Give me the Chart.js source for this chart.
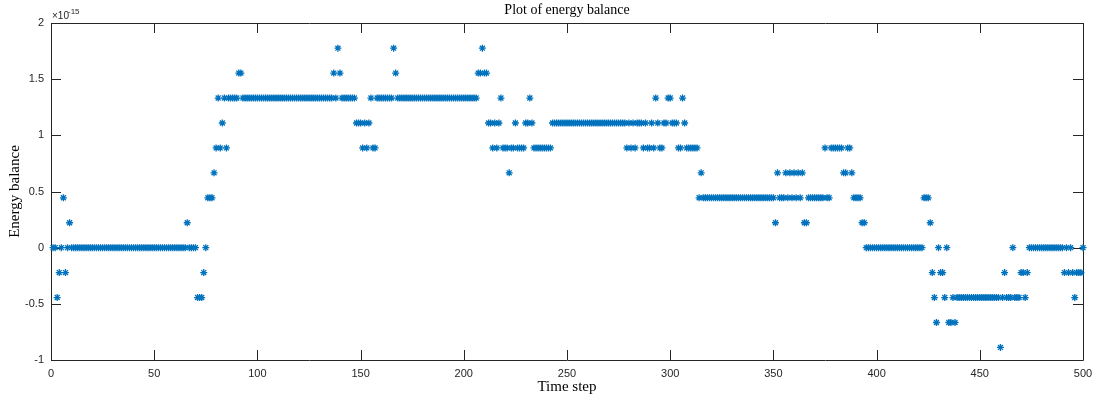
<!DOCTYPE html>
<html>
<head>
<meta charset="utf-8">
<title>Plot of energy balance</title>
<script src="https://cdn.jsdelivr.net/npm/chart.js@4/dist/chart.umd.min.js"></script>
<style>
  html, body { margin: 0; padding: 0; background: #fff; }
  canvas { display: block; }
</style>
</head>
<body>
<canvas id="chartEnergy" width="1101" height="399"></canvas>
<script>
const titleText = 'Plot of energy balance'
const xLabel = 'Time step'
const yLabel = 'Energy balance'
const yExponent = '-15'

// energy balance for time steps 1..500, in units of 1e-15
const energy = [
  0, 0, -0.444, -0.222, 0, 0.444, -0.222, 0, 0.222, 0,
  0, 0, 0, 0, 0, 0, 0, 0, 0, 0,
  0, 0, 0, 0, 0, 0, 0, 0, 0, 0,
  0, 0, 0, 0, 0, 0, 0, 0, 0, 0,
  0, 0, 0, 0, 0, 0, 0, 0, 0, 0,
  0, 0, 0, 0, 0, 0, 0, 0, 0, 0,
  0, 0, 0, 0, 0, 0.222, 0, 0, 0, 0,
  -0.444, -0.444, -0.444, -0.222, 0, 0.444, 0.444, 0.444, 0.666, 0.888,
  1.332, 0.888, 1.11, 1.332, 0.888, 1.332, 1.332, 1.332, 1.332, 1.332,
  1.554, 1.554, 1.332, 1.332, 1.332, 1.332, 1.332, 1.332, 1.332, 1.332,
  1.332, 1.332, 1.332, 1.332, 1.332, 1.332, 1.332, 1.332, 1.332, 1.332,
  1.332, 1.332, 1.332, 1.332, 1.332, 1.332, 1.332, 1.332, 1.332, 1.332,
  1.332, 1.332, 1.332, 1.332, 1.332, 1.332, 1.332, 1.332, 1.332, 1.332,
  1.332, 1.332, 1.332, 1.332, 1.332, 1.332, 1.554, 1.332, 1.776, 1.554,
  1.332, 1.332, 1.332, 1.332, 1.332, 1.332, 1.332, 1.11, 1.11, 1.11,
  0.888, 1.11, 0.888, 1.11, 1.332, 0.888, 0.888, 1.332, 1.332, 1.332,
  1.332, 1.332, 1.332, 1.332, 1.332, 1.776, 1.554, 1.332, 1.332, 1.332,
  1.332, 1.332, 1.332, 1.332, 1.332, 1.332, 1.332, 1.332, 1.332, 1.332,
  1.332, 1.332, 1.332, 1.332, 1.332, 1.332, 1.332, 1.332, 1.332, 1.332,
  1.332, 1.332, 1.332, 1.332, 1.332, 1.332, 1.332, 1.332, 1.332, 1.332,
  1.332, 1.332, 1.332, 1.332, 1.332, 1.332, 1.554, 1.554, 1.776, 1.554,
  1.554, 1.11, 1.11, 0.888, 1.11, 0.888, 1.11, 1.332, 0.888, 0.888,
  0.888, 0.666, 0.888, 0.888, 1.11, 0.888, 0.888, 0.888, 0.888, 1.11,
  1.11, 1.332, 1.11, 0.888, 0.888, 0.888, 0.888, 0.888, 0.888, 0.888,
  0.888, 0.888, 1.11, 1.11, 1.11, 1.11, 1.11, 1.11, 1.11, 1.11,
  1.11, 1.11, 1.11, 1.11, 1.11, 1.11, 1.11, 1.11, 1.11, 1.11,
  1.11, 1.11, 1.11, 1.11, 1.11, 1.11, 1.11, 1.11, 1.11, 1.11,
  1.11, 1.11, 1.11, 1.11, 1.11, 1.11, 1.11, 1.11, 0.888, 1.11,
  0.888, 1.11, 0.888, 1.11, 1.11, 1.11, 0.888, 1.11, 0.888, 0.888,
  1.11, 0.888, 1.332, 1.11, 0.888, 0.888, 1.11, 1.11, 1.332, 1.332,
  1.11, 1.11, 1.11, 0.888, 0.888, 1.332, 1.11, 0.888, 0.888, 0.888,
  0.888, 0.888, 0.888, 0.444, 0.666, 0.444, 0.444, 0.444, 0.444, 0.444,
  0.444, 0.444, 0.444, 0.444, 0.444, 0.444, 0.444, 0.444, 0.444, 0.444,
  0.444, 0.444, 0.444, 0.444, 0.444, 0.444, 0.444, 0.444, 0.444, 0.444,
  0.444, 0.444, 0.444, 0.444, 0.444, 0.444, 0.444, 0.444, 0.444, 0.444,
  0.222, 0.666, 0.444, 0.444, 0.444, 0.666, 0.444, 0.666, 0.444, 0.666,
  0.444, 0.666, 0.444, 0.666, 0.222, 0.222, 0.444, 0.444, 0.444, 0.444,
  0.444, 0.444, 0.444, 0.444, 0.888, 0.444, 0.444, 0.888, 0.888, 0.888,
  0.888, 0.888, 0.888, 0.666, 0.666, 0.888, 0.888, 0.666, 0.444, 0.444,
  0.444, 0.444, 0.222, 0.222, 0, 0, 0, 0, 0, 0,
  0, 0, 0, 0, 0, 0, 0, 0, 0, 0,
  0, 0, 0, 0, 0, 0, 0, 0, 0, 0,
  0, 0, 0.444, 0.444, 0.444, 0.222, -0.222, -0.444, -0.666, 0,
  -0.222, -0.222, -0.444, 0, -0.666, -0.666, -0.444, -0.666, -0.444, -0.444,
  -0.444, -0.444, -0.444, -0.444, -0.444, -0.444, -0.444, -0.444, -0.444, -0.444,
  -0.444, -0.444, -0.444, -0.444, -0.444, -0.444, -0.444, -0.444, -0.444, -0.888,
  -0.444, -0.222, -0.444, -0.444, -0.444, 0, -0.444, -0.444, -0.444, -0.222,
  -0.222, -0.444, -0.222, 0, 0, 0, 0, 0, 0, 0,
  0, 0, 0, 0, 0, 0, 0, 0, 0, 0,
  -0.222, 0, -0.222, 0, -0.222, -0.444, -0.222, -0.222, -0.222, 0
]

const xRange = [0, 500]
const yRange = [-1, 2]
const xStep = 50
const yStep = 0.5

const points = energy.map((v, i) => ({ x: i + 1, y: v }))

const axisColor = '#262626'
const markColor = '#0072BD'
const sansFont = '"Liberation Sans", Arial, sans-serif'
const serifFont = '"Liberation Serif", "Times New Roman", serif'

// MATLAB-like box with inward ticks, title and exponent label
const matlabAxes = {
  id: 'matlabAxes',
  beforeDatasetsDraw (chart) {
    const { ctx, chartArea: a, scales } = chart
    const len = 10
    ctx.save()
    ctx.strokeStyle = axisColor
    ctx.lineWidth = 1
    ctx.beginPath()
    ctx.rect(a.left + 0.5, a.top + 0.5, a.right - a.left, a.bottom - a.top)
    scales.x.ticks.forEach((t) => {
      const px = Math.round(scales.x.getPixelForValue(t.value)) + 0.5
      ctx.moveTo(px, a.bottom)
      ctx.lineTo(px, a.bottom - len)
      ctx.moveTo(px, a.top)
      ctx.lineTo(px, a.top + len)
    })
    scales.y.ticks.forEach((t) => {
      const py = Math.round(scales.y.getPixelForValue(t.value)) + 0.5
      ctx.moveTo(a.left, py)
      ctx.lineTo(a.left + len, py)
      ctx.moveTo(a.right, py)
      ctx.lineTo(a.right - len, py)
    })
    ctx.stroke()
    ctx.restore()
  },
  afterDraw (chart) {
    const { ctx, chartArea: a } = chart
    ctx.save()
    ctx.fillStyle = '#000'
    ctx.font = '14px ' + serifFont
    ctx.textAlign = 'center'
    ctx.textBaseline = 'middle'
    ctx.fillText(titleText, (a.left + a.right) / 2, 10)
    ctx.fillStyle = axisColor
    ctx.textAlign = 'left'
    ctx.textBaseline = 'alphabetic'
    ctx.font = '10px ' + sansFont
    ctx.fillText('\u00d710', a.left + 1, 19)
    ctx.font = '8px ' + sansFont
    ctx.fillText(yExponent, a.left + 17, 14)
    ctx.restore()
  }
}

const ctx = document.getElementById('chartEnergy').getContext('2d')

const chartEnergy = new Chart(ctx, {
  type: 'scatter',
  data: {
    datasets: [
      {
        label: 'Energy balance',
        data: points,
        pointStyle: 'star',
        pointRadius: 3.5,
        pointBorderWidth: 1.3,
        borderColor: markColor,
        backgroundColor: markColor,
        clip: false
      }
    ]
  },
  options: {
    responsive: false,
    animation: false,
    devicePixelRatio: 1,
    layout: {
      padding: { left: 0, right: 18, top: 23, bottom: 0 }
    },
    scales: {
      x: {
        type: 'linear',
        min: xRange[0],
        max: xRange[1],
        grid: { display: false, drawTicks: false },
        border: { display: false },
        ticks: {
          stepSize: xStep,
          color: axisColor,
          padding: 7,
          maxRotation: 0,
          font: { family: sansFont, size: 11 }
        },
        title: {
          display: true,
          text: xLabel,
          color: '#000',
          padding: { top: 0, bottom: 3 },
          font: { family: serifFont, size: 15 }
        },
        afterFit: (scale) => { scale.height = 39 }
      },
      y: {
        min: yRange[0],
        max: yRange[1],
        grid: { display: false, drawTicks: false },
        border: { display: false },
        ticks: {
          stepSize: yStep,
          color: axisColor,
          padding: 7,
          font: { family: sansFont, size: 11 },
          callback: (v) => String(+v.toFixed(2))
        },
        title: {
          display: true,
          text: yLabel,
          color: '#000',
          padding: { top: 6, bottom: 0 },
          font: { family: serifFont, size: 15 }
        },
        afterFit: (scale) => { scale.width = 51 }
      }
    },
    plugins: {
      legend: { display: false },
      title: { display: false },
      tooltip: { enabled: false }
    }
  },
  plugins: [matlabAxes]
})
</script>
</body>
</html>
